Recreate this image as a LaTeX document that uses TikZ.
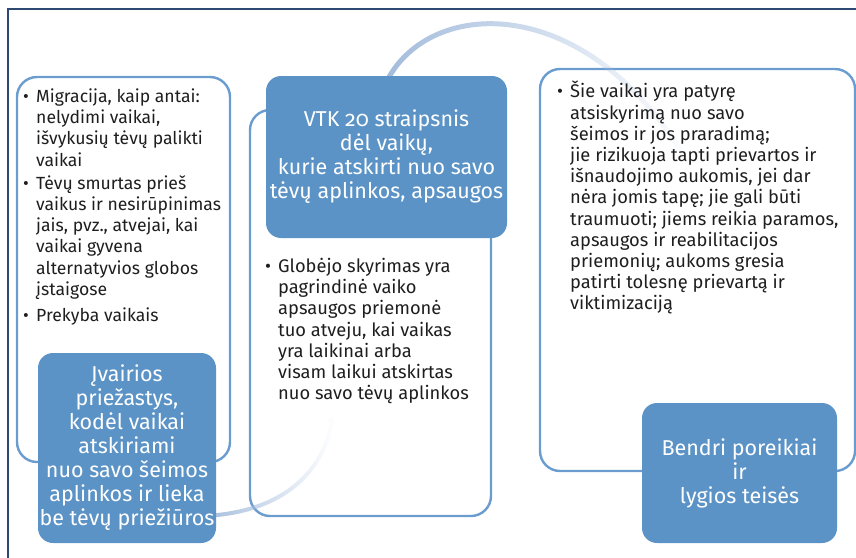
\documentclass[tikz,border=0pt]{standalone}
\usepackage{fontspec}
\setmainfont{Fira Sans}[Numbers=OldStyle]
\usetikzlibrary{arrows.meta,fadings}
\definecolor{boxblue}{HTML}{5B93C6}
\definecolor{lineblue}{HTML}{6A9CD0}
\definecolor{arcblue}{HTML}{A3BCDC}
\definecolor{framec}{HTML}{2E4A72}
\definecolor{bodyc}{HTML}{1E1E1E}
\newcommand\bulletmark{\makebox[13pt][l]{•}}
\newcommand\hangpad{\hspace*{13pt}}
\pgfdeclarelayer{backlayer}
\pgfdeclarelayer{midlayer}
\pgfsetlayers{backlayer,midlayer,main}
\tikzfading[name=fadeout, left color=transparent!0, middle color=transparent!10, right color=transparent!100]
\begin{document}
\begin{tikzpicture}[x=1pt,y=-1pt,
 frame/.style={draw=framec, line width=1.3pt},
 outbox/.style={draw=lineblue, line width=2.4pt, rounded corners=20pt, inner sep=0pt},
 fillbox/.style={fill=boxblue, draw=none, rounded corners=15pt, text=white, font=\fontsize{21.5}{24}\selectfont, align=center, inner sep=0pt},
 bodytext/.style={text=bodyc, font=\fontsize{18.3}{21.2}\selectfont, align=left, inner sep=0pt, anchor=north west},
 flow/.style={draw=arcblue, line width=5pt, path fading=fadeout}
]
\useasboundingbox (0,0) rectangle (856,557);
% frame
\draw[frame] (8,570) -- (8,9) -- (870,9);

% outline boxes
\begin{pgfonlayer}{backlayer}
\node[outbox, minimum width=213pt, minimum height=385pt] (lbox) at (123.5,269.5) {};
\node[outbox, minimum width=241pt, minimum height=406pt] (mbox) at (370.5,313) {};
\node[outbox, minimum width=315pt, minimum height=402pt] (rbox) at (697.5,270) {};
\end{pgfonlayer}

\coordinate (arcAend) at (333,415);
\coordinate (arcBend) at (695,175);

% filled boxes
\node[fillbox, minimum width=178pt, minimum height=190pt] (cause) at (127,448)
 {Įvairios\\priežastys,\\kodėl vaikai\\atskiriami\\nuo savo šeimos\\aplinkos ir lieka\\be tėvų priežiūros};
\node[fillbox, minimum width=241pt, minimum height=162pt] (vtk) at (386.5,157)
 {VTK 20 straipsnis\\dėl vaikų,\\kurie atskirti nuo savo\\tėvų aplinkos, apsaugos};
\node[fillbox, minimum width=195pt, minimum height=140pt] (needs) at (739.5,473)
 {Bendri poreikiai\\ir\\lygios teisės};

% arcs
\begin{pgfonlayer}{midlayer}
\draw[flow, line width=4pt, -{Latex[length=7pt,width=9pt]}] ([xshift=-12pt,yshift=-68pt]cause.east) .. controls (290,512) and (325,465) .. (arcAend);
\draw[flow] ([yshift=-6pt]vtk.north) .. controls (430,-5) and (595,-10) .. (arcBend);
\end{pgfonlayer}

% body texts
\node[bodytext, font=\fontsize{17.6}{21.2}\selectfont] (ltext) at (23,88.5)
 {\bulletmark Migracija, kaip antai:\\
  \hangpad nelydimi vaikai,\\
  \hangpad išvykusių tėvų palikti\\
  \hangpad vaikai\\[2pt]
  \bulletmark Tėvų smurtas prieš\\
  \hangpad vaikus ir nesirūpinimas\\
  \hangpad jais, pvz., atvejai, kai\\
  \hangpad vaikai gyvena\\
  \hangpad alternatyvios globos\\
  \hangpad įstaigose\\[5pt]
  \bulletmark Prekyba vaikais};
\node[bodytext] (mtext) at (265,258)
 {\bulletmark Globėjo skyrimas yra\\
  \hangpad pagrindinė vaiko\\
  \hangpad apsaugos priemonė\\
  \hangpad tuo atveju, kai vaikas\\
  \hangpad yra laikinai arba\\
  \hangpad visam laikui atskirtas\\
  \hangpad nuo savo tėvų aplinkos};
\node[bodytext] (rtext) at (557,81)
 {\bulletmark Šie vaikai yra patyrę\\
  \hangpad atsiskyrimą nuo savo\\
  \hangpad šeimos ir jos praradimą;\\
  \hangpad jie rizikuoja tapti prievartos ir\\
  \hangpad išnaudojimo aukomis, jei dar\\
  \hangpad nėra jomis tapę; jie gali būti\\
  \hangpad traumuoti; jiems reikia paramos,\\
  \hangpad apsaugos ir reabilitacijos\\
  \hangpad priemonių; aukoms gresia\\
  \hangpad patirti tolesnę prievartą ir\\
  \hangpad viktimizaciją};
\end{tikzpicture}
\end{document}
